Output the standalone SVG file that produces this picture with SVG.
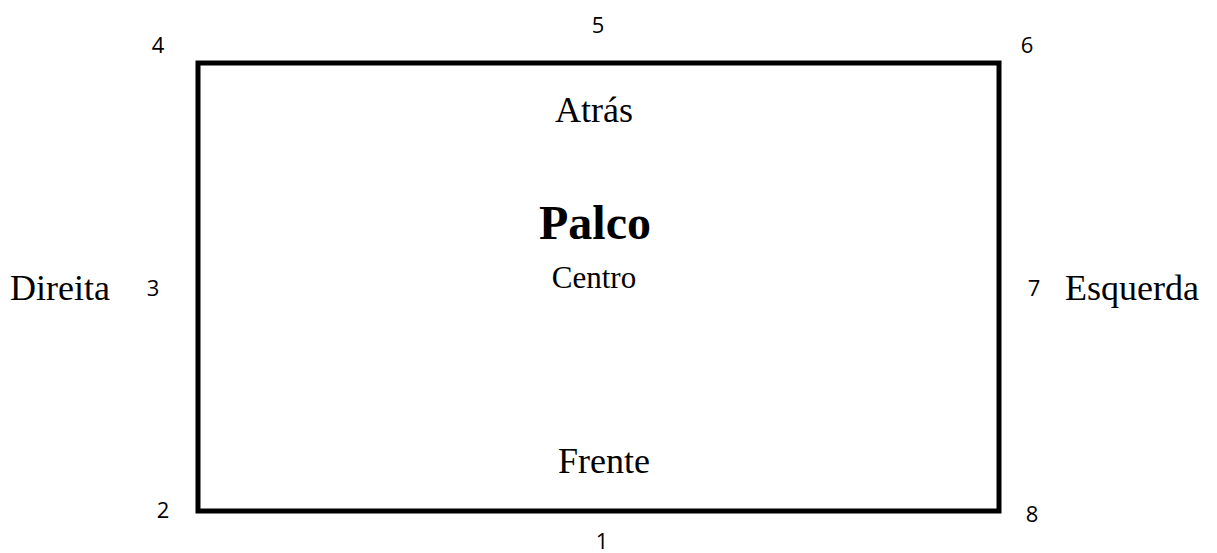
<svg xmlns="http://www.w3.org/2000/svg" width="1217" height="553" viewBox="0 0 1217 553">
<style>
.num{font-family:"Open Sans","Liberation Sans",sans-serif;font-size:22px;fill:#000;text-anchor:middle}
.lbl{font-family:"Liberation Serif","Times New Roman",serif;font-size:36px;fill:#000}
.mid{text-anchor:middle}
</style>
<rect width="1217" height="553" fill="#fff"/>
<g id="stage">
<rect x="198" y="63" width="801" height="448" fill="none" stroke="#000" stroke-width="5"/>
<text class="lbl mid" x="594" y="122">Atrás</text>
<text class="lbl mid" x="595" y="239" style="font-weight:bold;font-size:48px">Palco</text>
<text class="lbl mid" x="594" y="288" style="font-size:31px">Centro</text>
<text class="lbl mid" x="604" y="473">Frente</text>
</g>
<g id="sides">
<text class="lbl" x="10" y="300">Direita</text>
<text class="lbl" x="1065" y="300">Esquerda</text>
</g>
<g id="numbers">
<text class="num" x="158" y="53">4</text>
<text class="num" x="598" y="33">5</text>
<text class="num" x="1027" y="53">6</text>
<text class="num" x="153" y="296">3</text>
<text class="num" x="1034" y="296">7</text>
<text class="num" x="163" y="518">2</text>
<text class="num" x="1032" y="522">8</text>
<text class="num" x="602" y="549">1</text>
</g>
</svg>
